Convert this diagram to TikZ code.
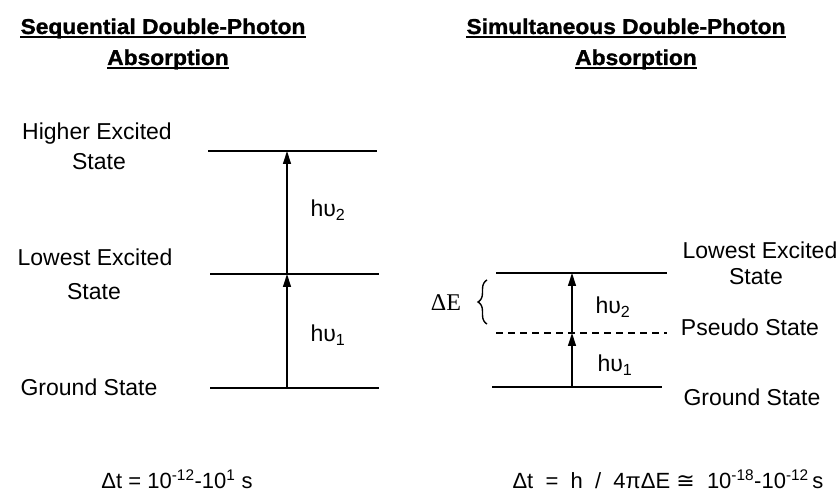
\documentclass[tikz,border=0pt]{standalone}
\usepackage{fontspec}
\setmainfont{Liberation Sans}
\newfontfamily\serifgreek{Liberation Serif}
\newfontfamily\symfont{DejaVu Sans}
\newfontfamily\titlefont[FakeStretch=1.06,FakeBold=1.2]{Liberation Sans}
\usetikzlibrary{arrows.meta,decorations.pathreplacing}
\begin{document}
\begin{tikzpicture}[x=1pt,y=-1pt,
  level/.style={line width=1.8pt},
  pseudo/.style={line width=1.6pt, dash pattern=on 7pt off 5pt},
  photon/.style={line width=1.3pt, -{Triangle[length=13pt,width=8pt]}},
  lbl/.style={font=\fontsize{23}{27}\selectfont, inner sep=0pt},
  ttl/.style={font=\titlefont\bfseries\fontsize{21.5}{25}\selectfont, inner sep=0pt, anchor=base},
  ul/.style={line width=2.2pt},
  formula/.style={font=\fontsize{22}{26}\selectfont, inner sep=0pt, anchor=base},
  bracestyle/.style={line width=1.4pt, decorate, decoration={brace,amplitude=9pt}}
]
\useasboundingbox (0,0) rectangle (836,494);

% titles
\node[ttl] (t1a) at (163,34) {Sequential Double-Photon};
\node[ttl] (t1b) at (168,65) {Absorption};
\node[ttl] (t2a) at (626,34) {Simultaneous Double-Photon};
\node[ttl] (t2b) at (636,65) {Absorption};
\foreach \t in {t1a,t1b,t2a,t2b}
  \draw[ul] ([yshift=-3pt]\t.base west) -- ([yshift=-3pt]\t.base east);

% left labels
\node[lbl] (lhe) at (97,134) {Higher Excited};
\node[lbl] (lhs) at (99,162) {State};
\node[lbl] (lle) at (95,257) {Lowest Excited};
\node[lbl] (lls) at (94,292) {State};
\node[lbl] (lgs) at (89,387) {Ground State};

% left levels
\coordinate (LtA) at (208,151); \coordinate (LtB) at (377,151);
\coordinate (LmA) at (210,274); \coordinate (LmB) at (379,274);
\coordinate (LgA) at (210,388); \coordinate (LgB) at (379,388);
\draw[level] (LtA) -- (LtB);
\draw[level] (LmA) -- (LmB);
\draw[level] (LgA) -- (LgB);
\coordinate (Lt) at (287,151);
\coordinate (Lm) at (287,274);
\coordinate (Lg) at (287,388);
\draw[photon] (Lg) -- (Lm);
\draw[photon] (Lm) -- (Lt);
\node[lbl] (lh2) at (328,210) {hυ\textsubscript{2}};
\node[lbl] (lh1) at (328,335) {hυ\textsubscript{1}};

% right levels
\coordinate (RtA) at (496,273); \coordinate (RtB) at (667,273);
\coordinate (RpA) at (496,333); \coordinate (RpB) at (667,333);
\coordinate (RgA) at (492,387); \coordinate (RgB) at (662,387);
\draw[level] (RtA) -- (RtB);
\draw[pseudo] (RpA) -- (RpB);
\draw[level] (RgA) -- (RgB);
\coordinate (Rt) at (572,273);
\coordinate (Rp) at (572,333);
\coordinate (Rg) at (572,387);
\draw[photon] (Rg) -- (Rp);
\draw[photon] (Rp) -- (Rt);
\node[lbl] (rh2) at (613,307) {hυ\textsubscript{2}};
\node[lbl] (rh1) at (615,365) {hυ\textsubscript{1}};

% right labels
\node[lbl] (rle) at (760,250) {Lowest Excited};
\node[lbl] (rls) at (756,277) {State};
\node[lbl] (rps) at (750,327) {Pseudo State};
\node[lbl] (rgs) at (752,397) {Ground State};

% delta E and brace
\node[font=\serifgreek\fontsize{24}{28}\selectfont, inner sep=0pt] (dE) at (446,303) {ΔE};
\coordinate (bB) at (487,324);
\coordinate (bT) at (487,280);
\draw[bracestyle] (bB) -- (bT);

% formulas
\node[formula] (f1) at (177,488) {Δt = 10\textsuperscript{-12}-10\textsuperscript{1} s};
\node[formula] (f2) at (668,488) {Δt \ = \ h \ / \ 4πΔE {\symfont ≅} \ 10\textsuperscript{-18}-10\textsuperscript{-12}\,s};
\end{tikzpicture}
\end{document}
